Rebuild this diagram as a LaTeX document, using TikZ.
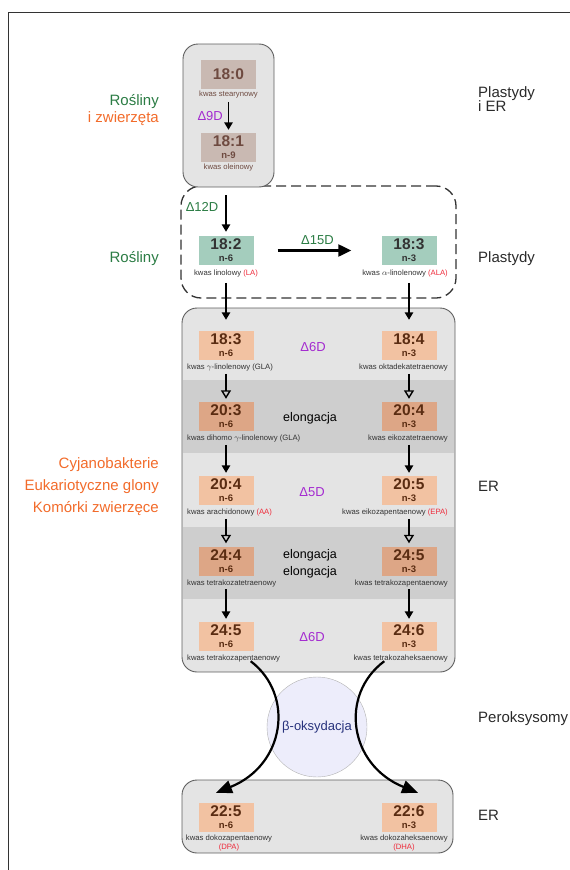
\documentclass[tikz,border=0pt]{standalone}
\usepackage{fontspec}
\setmainfont{Liberation Sans}
\usetikzlibrary{arrows.meta,positioning}

\definecolor{boxgray}{HTML}{E4E4E4}
\definecolor{bandgray}{HTML}{CECECE}
\definecolor{edgegray}{HTML}{5E5E5E}
\definecolor{stbrown}{HTML}{C9B9B2}
\definecolor{sttext}{HTML}{6E4A40}
\definecolor{mint}{HTML}{A4CDBD}
\definecolor{salmon}{HTML}{F2C2A2}
\definecolor{salmondark}{HTML}{DDA686}
\definecolor{fatext}{HTML}{5A2C12}
\definecolor{labelgray}{HTML}{333333}
\definecolor{sitegray}{HTML}{2A2A2A}
\definecolor{plantgreen}{HTML}{2B7C44}
\definecolor{animorange}{HTML}{F26B2A}
\definecolor{desatpurple}{HTML}{A42BD0}
\definecolor{abbrred}{HTML}{EE2B3B}
\definecolor{oxnavy}{HTML}{27327C}
\definecolor{lavender}{HTML}{EDEDFB}

\newcommand{\fa}[2]{{\fontsize{15.5}{15}\selectfont #1}\\#2}
\newcommand{\abbr}[1]{\textcolor{abbrred}{#1}}

\begin{document}
\begin{tikzpicture}[x=1pt, y=-1pt,
    grpbox/.style={draw=edgegray, fill=boxgray, line width=0.9pt, rounded corners=15pt},
    fabox/.style={minimum width=55pt, minimum height=29pt, inner sep=0pt, align=center,
        font=\fontsize{9.5}{12}\selectfont\bfseries},
    falbl/.style={inner sep=1pt, align=center, text=labelgray, font=\fontsize{7.7}{8.5}\selectfont},
    enz/.style={inner sep=2pt, font=\fontsize{13}{15}\selectfont},
    org/.style={anchor=base east, inner sep=0pt, font=\fontsize{15}{17}\selectfont},
    site/.style={anchor=north west, align=left, inner sep=0pt, text=sitegray,
        font=\fontsize{15}{14}\selectfont},
    desat/.style={-{Triangle[length=7.5pt,width=8.5pt]}, line width=1.4pt, shorten >=3pt},
    elong/.style={-{Triangle[open,length=8.5pt,width=10pt]}, line width=1.4pt, shorten >=3pt},
    bend arrow/.style={-{Triangle[length=16pt,width=13pt]}, line width=2.2pt}]

    \useasboundingbox (0,0) rectangle (570,870);

    % frame
    \draw [labelgray, line width=1pt] (8,870) -- (8,12.5) -- (570,12.5);

    % plastids: dashed group
    \node [draw=labelgray, line width=1.3pt, dash pattern=on 10pt off 5pt, rounded corners=20pt,
        minimum width=275pt, minimum height=112pt] (plast) at (318.5,242) {};

    % plastids and ER: 18:0 -> 18:1
    \node [grpbox, minimum width=91pt, minimum height=143pt] (pie) at (228.5,115.5) {};
    \node [fabox, fill=stbrown, text=sttext] (st) at (228.5,74.5) {{\fontsize{15.5}{15}\selectfont 18:0}};
    \node [falbl, text=sttext, below=1pt of st] (stl) {kwas stearynowy};
    \node [fabox, fill=stbrown, text=sttext] (ol) at (228.5,147.5) {\fa{18:1}{n-9}};
    \node [falbl, text=sttext, below=1pt of ol] (oll) {kwas oleinowy};
    \draw [desat, shorten <=2pt] (stl) -- (ol) node [midway, left=3pt, enz, text=desatpurple] {Δ9D};

    % plastids: 18:2 -> 18:3
    \node [fabox, fill=mint, text=labelgray] (la) at (226,250.5) {\fa{18:2}{n-6}};
    \node [falbl, below=4pt of la] (lal) {kwas linolowy \abbr{(LA)}};
    \node [fabox, fill=mint, text=labelgray] (ala) at (409,250.5) {\fa{18:3}{n-3}};
    \node [falbl, anchor=north east] (alal) at ([yshift=-4pt]ala.south -| 449,0) {kwas $\alpha$-linolenowy \abbr{(ALA)}};
    \draw [desat, shorten <=8pt, shorten >=4pt] (pie.south -| la.north) -- (la.north)
        node [pos=0.4, left=5pt, enz, text=plantgreen] {Δ12D};
    \draw [-{Triangle[length=13pt,width=12pt]}, line width=2.3pt, shorten <=24pt, shorten >=30pt] (la) -- (ala)
        node [midway, above=3pt, enz, text=plantgreen] {Δ15D};

    % ER: desaturation and elongation
    \node [grpbox, minimum width=273pt, minimum height=364pt] (er) at (318.5,490) {};
    \fill [bandgray] (182.6,380) rectangle (454.4,453);
    \fill [bandgray] (182.6,527) rectangle (454.4,599);
    \foreach \i/\y/\accl/\accr/\col in {1/345.5/18:3/18:4/salmon, 2/416.5/20:3/20:4/salmondark,
        3/490.5/20:4/20:5/salmon, 4/561/24:4/24:5/salmondark, 5/636.5/24:5/24:6/salmon} {
        \node [fabox, fill=\col, text=fatext] (l\i) at (226,\y) {\fa{\accl}{n-6}};
        \node [fabox, fill=\col, text=fatext] (r\i) at (409,\y) {\fa{\accr}{n-3}};
    }
    \foreach \i/\lbll/\lblr in {1/{kwas $\gamma$-linolenowy (GLA)}/{kwas oktadekatetraenowy},
        2/{kwas dihomo $\gamma$-linolenowy (GLA)}/{kwas eikozatetraenowy},
        3/{kwas arachidonowy \abbr{(AA)}}/{kwas eikozapentaenowy \abbr{(EPA)}},
        4/{kwas tetrakozatetraenowy}/{kwas tetrakozapentaenowy},
        5/{kwas tetrakozapentaenowy}/{kwas tetrakozaheksaenowy}} {
        \node [falbl, anchor=north west] (ll\i) at ([yshift=-3pt]l\i.south -| 186,0) {\lbll};
        \node [falbl, anchor=north east] (rl\i) at ([yshift=-3pt]r\i.south -| 449,0) {\lblr};
    }
    \draw [desat, shorten <=4pt, shorten >=11pt] (l1.north |- lal.south) -- (l1.north);
    \draw [desat, shorten <=4pt, shorten >=11pt] (r1.north |- alal.south) -- (r1.north);
    \foreach \i/\j/\sty in {1/2/elong, 2/3/desat, 3/4/elong, 4/5/desat} {
        \draw [\sty, shorten <=1pt] (l\j.north |- ll\i.south) -- (l\j.north);
        \draw [\sty, shorten <=1pt] (r\j.north |- rl\i.south) -- (r\j.north);
    }
    \node [enz, text=desatpurple] (d6a) at (313,347) {Δ6D};
    \node [enz, font=\fontsize{12.5}{17}\selectfont] (el1) at (310,418) {elongacja};
    \node [enz, text=desatpurple] (d5) at (312,492) {Δ5D};
    \node [enz, align=center, font=\fontsize{12.5}{17}\selectfont] (el2) at (310,563.5) {elongacja\\elongacja};
    \node [enz, text=desatpurple] (d6b) at (312,637) {Δ6D};

    % peroxisomes and back to ER
    \node [grpbox, minimum width=271pt, minimum height=73pt] (erlow) at (317.5,816.5) {};
    \node [circle, draw=gray!60, fill=lavender, minimum size=100pt, text=oxnavy,
        font=\fontsize{13}{15}\selectfont] (beta) at (317,727) {β-oksydacja};
    \node [fabox, fill=salmon, text=fatext] (dpa) at (226,817.5) {\fa{22:5}{n-6}};
    \node [falbl, anchor=north] (dpal) at ([yshift=-2pt]dpa.south -| 229,0) {kwas dokozapentaenowy\\\abbr{(DPA)}};
    \node [fabox, fill=salmon, text=fatext] (dha) at (409,817.5) {\fa{22:6}{n-3}};
    \node [falbl, anchor=north] (dhal) at ([yshift=-2pt]dha.south -| 404,0) {kwas dokozaheksaenowy\\\abbr{(DHA)}};
    \draw [bend arrow] ([xshift=-3pt,yshift=-10pt]l5.south east) .. controls (295,695) and (285,765) .. ([xshift=-10pt,yshift=10pt]dpa.north);
    \draw [bend arrow] ([xshift=3pt,yshift=-10pt]r5.south west) .. controls (339,695) and (349,765) .. ([xshift=9pt,yshift=10pt]dha.north);

    % organisms (left) and compartments (right)
    \node [org, text=plantgreen] (plants1) at (159,105) {Rośliny};
    \node [org, text=animorange] (animals) at (159,122) {i zwierzęta};
    \node [org, text=plantgreen] (plants2) at (159,262) {Rośliny};
    \node [org, text=animorange] (cyano) at (159,468) {Cyjanobakterie};
    \node [org, text=animorange] (algae) at (159,490) {Eukariotyczne glony};
    \node [org, text=animorange] (animcells) at (159,512) {Komórki zwierzęce};
    \node [site] (s1) at (478,86) {Plastydy\\i ER};
    \node [site] (s2) at (478,251) {Plastydy};
    \node [site] (s3) at (478,481) {ER};
    \node [site] (s4) at (478,711) {Peroksysomy};
    \node [site] (s5) at (478,810) {ER};

\end{tikzpicture}
\end{document}
